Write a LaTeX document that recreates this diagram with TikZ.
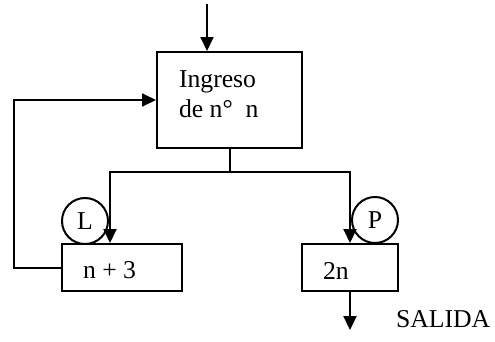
\documentclass[tikz,border=0pt]{standalone}
\usepackage{fontspec}
\setmainfont{Liberation Serif}
\usetikzlibrary{arrows.meta}
\begin{document}
\begin{tikzpicture}[x=1bp,y=-1bp,
  line width=2bp,
  every node/.style={font=\fontsize{25.8}{30}\selectfont},
  flow/.style={-{Triangle[length=14bp,width=13bp]}},
  procbox/.style={draw,rectangle,inner sep=0pt},
  tag/.style={draw,circle,minimum size=46bp,inner sep=0pt},
  txt/.style={anchor=base west,inner sep=0pt}]
\useasboundingbox (0,0) rectangle (495,341);

% boxes
\node[procbox,minimum width=145bp,minimum height=96bp] (main) at (229.5,100) {};
\node[procbox,minimum width=120bp,minimum height=47bp] (lbox) at (122,267.5) {};
\node[procbox,minimum width=96bp,minimum height=47bp] (rbox) at (350,267.5) {};

% box texts
\node[txt] (t1) at (178,87) {Ingreso};
\node[txt] (t2) at (178,117) {de n°\ \ n};
\node[txt] (t3) at (82,278) {n + 3};
\node[txt] (t4) at (322,279) {2n};

% branch labels
\node[tag] (cl) at (85,221) {L};
\node[tag] (cp) at (375,220) {P};

% input
\coordinate (in) at (207,4);
\draw[flow] (in) -- (in |- main.north);

% split into the two branches
\coordinate (j) at (230,172);
\coordinate (jl) at (110,172);
\draw (main.south -| j) -- (j);
\draw[flow] (j) -- (jl) -- (jl |- lbox.north);
\draw[flow] (j) -| (rbox.north);

% loop back to the input box
\coordinate (lp) at (14,0);
\draw[flow] (lbox.west) -- (lbox.west -| lp) |- (main.west);

% output
\coordinate (out) at (350,330);
\draw[flow] (rbox.south) -- (out);
\node[txt] (sal) at (395,327) {SALIDA};
\end{tikzpicture}
\end{document}
